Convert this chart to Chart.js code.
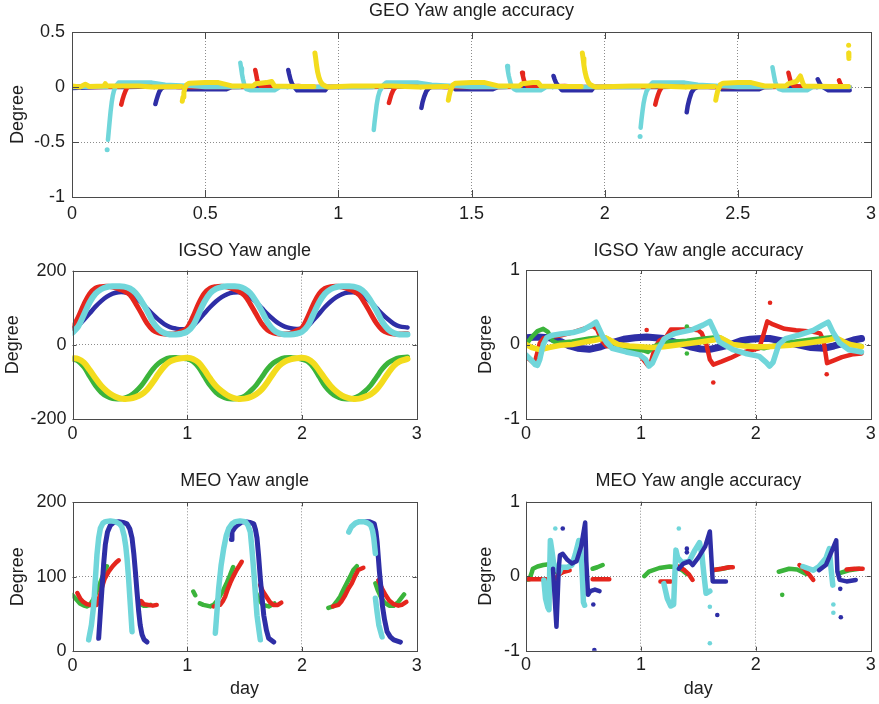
<!DOCTYPE html>
<html>
<head>
<meta charset="utf-8">
<title>Yaw angle and yaw angle accuracy</title>
<script src="https://cdn.jsdelivr.net/npm/chart.js@4.4.1/dist/chart.umd.min.js"></script>
<style>
  html, body { margin: 0; padding: 0; background: #ffffff; }
  #figure { position: relative; width: 879px; height: 704px; overflow: hidden; background: #ffffff; }
  #figure canvas { position: absolute; }
</style>
</head>
<body>
<div id="figure">
  <canvas id="geoAcc"></canvas>
  <canvas id="igsoYaw"></canvas>
  <canvas id="igsoAcc"></canvas>
  <canvas id="meoYaw"></canvas>
  <canvas id="meoAcc"></canvas>
</div>
<script>
// ---------- colours ----------
const RED = '#e5261d';
const BLUE = '#2e2ea6';
const CYAN = '#70d6da';
const GREEN = '#3bb43b';
const YELLOW = '#f3dc1d';

// ---------- tick labels ----------
const geoXTicks = [0, 0.5, 1, 1.5, 2, 2.5, 3];
const geoYTicks = [-1, -0.5, 0, 0.5];
const dayTicks = [0, 1, 2, 3];
const yawTicks = [-200, 0, 200];
const meoYawTicks = [0, 100, 200];
const accTicks = [-1, 0, 1];

// ---------- GEO yaw angle accuracy: [day, degree], null = gap ----------
const geoBlue = [
  [0,-0.01],[0.1,0],[0.2,0],[0.3,0.005],[0.31,0],null,
  [0.313,-0.155],[0.317,-0.12],[0.322,-0.08],[0.328,-0.04],[0.335,-0.015],[0.345,0],[0.42,0],[0.43,-0.02],[0.58,-0.02],[0.6,0],[0.7,0],[0.8,0.005],[0.81,0],null,
  [0.812,0.155],[0.815,0.12],[0.82,0.07],[0.826,0.03],[0.835,0],[0.845,-0.03],[0.95,-0.03],[0.96,0],[1.1,0],[1.3,0.005],[1.31,0],null,
  [1.312,-0.19],[1.316,-0.14],[1.322,-0.09],[1.33,-0.04],[1.34,-0.01],[1.35,0],[1.43,0],[1.44,-0.02],[1.58,-0.02],[1.6,0],[1.8,0.005],[1.805,0],null,
  [1.808,0.1],[1.812,0.07],[1.818,0.035],[1.826,0.01],[1.84,-0.03],[1.95,-0.03],[1.96,0],[2.2,0],[2.3,0.005],[2.305,0],null,
  [2.308,-0.23],[2.312,-0.17],[2.318,-0.11],[2.326,-0.05],[2.336,-0.015],[2.35,0],[2.43,0],[2.44,-0.02],[2.58,-0.02],[2.6,0],[2.79,0.005],[2.797,0],null,
  [2.8,0.07],[2.804,0.05],[2.81,0.02],[2.82,0],[2.84,-0.03],[2.92,-0.03]
];
const geoRed = [
  [0,0.005],[0.1,0],[0.18,0.005],null,
  [0.185,-0.16],[0.189,-0.12],[0.194,-0.08],[0.2,-0.04],[0.206,-0.01],[0.215,0.01],[0.35,0.01],[0.4,0],[0.6,0],[0.685,0.005],null,
  [0.688,0.155],[0.691,0.12],[0.695,0.07],[0.7,0.03],[0.708,0.01],[0.75,0],[0.85,0.01],[0.9,0],[1.18,0.005],null,
  [1.19,-0.145],[1.194,-0.11],[1.199,-0.07],[1.205,-0.035],[1.212,-0.01],[1.22,0.01],[1.35,0.01],[1.4,0],[1.6,0],[1.685,0.005],null,
  [1.69,0.13],[1.693,0.1],[1.697,0.06],[1.702,0.03],[1.71,0.01],[1.75,0],[1.85,0.01],[1.9,0],[2.185,0.005],null,
  [2.19,-0.16],[2.194,-0.12],[2.199,-0.08],[2.205,-0.04],[2.212,-0.01],[2.22,0.01],[2.35,0.01],[2.4,0],[2.6,0],[2.685,0.005],null,
  [2.69,0.13],[2.693,0.1],[2.697,0.06],[2.702,0.03],[2.71,0.01],[2.75,0],[2.875,0.005],null,
  [2.88,0.06],[2.885,0.03],[2.89,0.01],[2.92,0]
];
const geoCyan = [
  [0,0],[0.1,0.005],[0.13,0],null,
  [0.135,-0.48],[0.138,-0.4],[0.141,-0.32],[0.145,-0.22],[0.149,-0.14],[0.153,-0.08],[0.158,-0.03],[0.165,0.01],[0.175,0.04],[0.3,0.04],[0.35,0.02],[0.45,0.01],[0.5,0],[0.628,0],null,
  [0.632,0.22],[0.635,0.17],[0.638,0.12],[0.642,0.07],[0.647,0.02],[0.655,-0.02],[0.67,-0.03],[0.76,-0.03],[0.78,0],[1.13,0],null,
  [1.133,-0.39],[1.136,-0.32],[1.14,-0.24],[1.144,-0.16],[1.149,-0.09],[1.155,-0.04],[1.162,-0.01],[1.17,0.02],[1.18,0.04],[1.3,0.04],[1.35,0.02],[1.5,0],[1.63,0],null,
  [1.634,0.19],[1.637,0.14],[1.64,0.1],[1.645,0.05],[1.65,0.01],[1.66,-0.02],[1.67,-0.03],[1.76,-0.03],[1.78,0],[2.13,0],null,
  [2.135,-0.37],[2.138,-0.3],[2.142,-0.22],[2.146,-0.15],[2.151,-0.09],[2.157,-0.04],[2.164,-0.01],[2.172,0.02],[2.18,0.04],[2.3,0.04],[2.35,0.02],[2.5,0],[2.626,0],null,
  [2.63,0.18],[2.633,0.14],[2.636,0.1],[2.64,0.05],[2.646,0.01],[2.655,-0.02],[2.67,-0.03],[2.76,-0.03],[2.78,0],[2.92,0]
];
const geoCyanDots = [[0.132,-0.57],[2.133,-0.45]];
const geoYellow = [
  [0,0.01],[0.03,0],[0.05,0.025],[0.065,0.005],[0.12,0.01],[0.125,0.03],[0.13,0.01],[0.25,0.01],[0.3,0],[0.41,0.005],null,
  [0.414,-0.13],[0.417,-0.09],[0.42,-0.05],[0.424,-0.01],[0.43,0.02],[0.44,0.035],[0.5,0.04],[0.55,0.04],[0.6,0.01],[0.68,0.01],[0.69,0.03],[0.73,0.04],[0.75,0.05],[0.76,0.01],[0.85,0.005],[0.908,0.005],null,
  [0.912,0.31],[0.915,0.26],[0.918,0.2],[0.922,0.14],[0.927,0.09],[0.933,0.05],[0.94,0.025],[0.95,0.01],[0.96,0],[1.05,0.01],[1.2,0.01],[1.3,0],[1.41,0.005],null,
  [1.413,-0.12],[1.416,-0.08],[1.42,-0.04],[1.425,-0.01],[1.43,0.02],[1.44,0.035],[1.5,0.04],[1.55,0.04],[1.6,0.01],[1.68,0.01],[1.69,0.03],[1.73,0.04],[1.75,0.04],[1.76,0.01],[1.85,0.005],[1.912,0.005],null,
  [1.916,0.31],[1.919,0.26],[1.922,0.2],[1.926,0.14],[1.931,0.09],[1.937,0.05],[1.944,0.025],[1.955,0.01],[1.965,0],[2.1,0.01],[2.2,0.01],[2.3,0],[2.413,0.005],null,
  [2.417,-0.12],[2.42,-0.08],[2.424,-0.04],[2.429,-0.01],[2.434,0.02],[2.445,0.035],[2.5,0.04],[2.55,0.04],[2.6,0.01],[2.68,0.01],[2.69,0.03],[2.72,0.05],[2.735,0.1],[2.745,0.03],[2.75,0.01],[2.85,0.005],[2.915,0.005],null,
  [2.916,0.31],[2.917,0.26]
];
const geoYellowDots = [[2.916,0.38]];

// ---------- IGSO yaw angle (degree), sampled on igsoDays ----------
const igsoDays = [
  0,0.05,0.1,0.15,0.2,0.25,0.3,0.35,0.4,0.45,0.5,0.55,0.6,0.65,0.7,0.75,0.8,0.85,0.9,0.95,
  1,1.05,1.1,1.15,1.2,1.25,1.3,1.35,1.4,1.45,1.5,1.55,1.6,1.65,1.7,1.75,1.8,1.85,1.9,1.95,
  2,2.05,2.1,2.15,2.2,2.25,2.3,2.35,2.4,2.45,2.5,2.55,2.6,2.65,2.7,2.75,2.8,2.85,2.92
];
const igsoRed = [
  45,75,110,138,153,157,158,156,151,145,135,112,85,58,40,32,29,29,31,37,
  46,76,112,139,153,157,158,156,151,144,133,110,83,57,40,32,29,29,31,38,
  46,75,110,138,152,157,158,156,151,145,134,111,84,58,40,32,29,29,30
];
const igsoCyan = [
  33,50,82,115,138,150,156,158,158,157,152,140,118,92,62,42,32,28,28,30,
  36,52,84,116,139,151,156,158,158,157,151,139,117,91,61,41,31,28,28,30,
  35,51,83,115,138,150,156,158,158,157,152,140,118,92,62,42,32,28,28
];
const igsoBlue = [
  45,52,68,85,103,118,130,138,142,142,138,128,114,98,82,68,56,48,44,42,
  44,52,67,85,102,117,129,137,141,142,138,129,115,99,83,69,57,49,45,43,
  44,51,67,84,102,117,129,137,141,142,138,129,115,99,83,69,57,50,47
];
const igsoGreen = [
  -38,-44,-60,-85,-110,-128,-139,-145,-146,-144,-138,-126,-110,-88,-66,-50,-40,-35,-34,-36,
  -38,-45,-61,-86,-110,-128,-139,-145,-146,-144,-138,-125,-109,-87,-65,-49,-40,-35,-34,-36,
  -39,-45,-61,-86,-111,-128,-139,-145,-146,-144,-137,-125,-109,-87,-65,-49,-40,-35,-33
];
const igsoYellow = [
  -36,-38,-48,-68,-90,-110,-125,-136,-143,-146,-145,-141,-134,-121,-101,-78,-58,-45,-39,-36,
  -35,-38,-48,-68,-91,-111,-125,-136,-143,-146,-145,-141,-133,-120,-100,-77,-57,-45,-39,-36,
  -35,-38,-49,-69,-91,-111,-126,-137,-143,-146,-145,-140,-133,-120,-100,-77,-57,-45,-38
];

// ---------- IGSO yaw angle accuracy: [day, degree] ----------
const igsoAccBlue = [
  [0,0.09],[0.1,0.1],[0.2,0.09],[0.3,0.04],[0.38,-0.02],[0.45,-0.05],[0.55,-0.065],[0.65,-0.03],[0.73,0.015],[0.85,0.07],[0.95,0.09],
  [1.05,0.1],[1.2,0.08],[1.3,0.03],[1.43,-0.03],[1.52,-0.06],[1.6,-0.065],[1.7,-0.03],[1.78,0],[1.87,0.05],[1.95,0.07],
  [2.05,0.08],[2.12,0.08],[2.25,0.04],[2.36,0],[2.48,-0.04],[2.59,-0.05],[2.68,-0.02],[2.76,0.015],[2.85,0.06],[2.92,0.08]
];
const igsoAccRed = [
  [0,-0.16],[0.03,-0.2],[0.06,-0.24],[0.08,-0.22],[0.1,-0.1],[0.12,0.02],[0.15,0.08],[0.2,0.1],[0.3,0.12],[0.4,0.16],[0.5,0.21],[0.58,0.25],[0.62,0.2],[0.66,0.05],[0.7,-0.02],[0.8,-0.04],[0.9,-0.05],[0.97,-0.1],
  [1.02,-0.2],[1.06,-0.28],[1.09,-0.22],[1.12,-0.05],[1.16,0.05],[1.22,0.1],[1.26,0.2],[1.35,0.2],[1.45,0.2],[1.5,0.19],[1.53,0.15],[1.57,0],[1.6,-0.2],[1.63,-0.27],[1.7,-0.23],[1.78,-0.18],[1.86,-0.12],[1.95,-0.08],
  [2.03,-0.05],[2.07,0.15],[2.1,0.31],[2.15,0.27],[2.25,0.21],[2.35,0.19],[2.5,0.17],[2.56,0.15],[2.59,0.05],[2.62,-0.25],[2.67,-0.22],[2.75,-0.17],[2.85,-0.13],[2.92,-0.12]
];
const igsoAccRedDots = [[1.05,0.195],[1.63,-0.51],[2.124,0.56],[2.617,-0.4]];
const igsoAccCyan = [
  [0,-0.14],[0.04,-0.2],[0.08,-0.27],[0.1,-0.28],[0.12,-0.2],[0.15,0],[0.18,0.09],[0.22,0.12],[0.3,0.14],[0.41,0.16],[0.5,0.2],[0.58,0.27],[0.61,0.3],[0.64,0.2],[0.67,0.1],[0.7,0.03],[0.75,-0.05],[0.87,-0.1],[0.99,-0.14],
  [1.04,-0.2],[1.07,-0.29],[1.1,-0.25],[1.16,-0.04],[1.2,0.07],[1.23,0.1],[1.3,0.15],[1.45,0.2],[1.54,0.26],[1.6,0.31],[1.64,0.18],[1.68,0.04],[1.8,-0.07],[1.91,-0.12],
  [2.03,-0.16],[2.09,-0.24],[2.12,-0.29],[2.15,-0.24],[2.2,0],[2.26,0.08],[2.38,0.13],[2.5,0.19],[2.58,0.26],[2.63,0.3],[2.67,0.17],[2.73,0.02],[2.81,-0.07],[2.92,-0.1]
];
const igsoAccGreen = [
  [0,0],[0.05,0.1],[0.1,0.18],[0.15,0.21],[0.19,0.17],[0.23,0.05],[0.27,0.02],[0.4,0.04],[0.55,0.08],[0.68,0.1],[0.72,0.07],[0.78,0],[0.9,-0.05],
  [1.02,-0.08],[1.06,-0.1],[1.12,-0.02],[1.2,0.03],[1.4,0.05],[1.55,0.08],[1.68,0.1],[1.73,0.06],[1.8,0],[1.95,-0.02],
  [2.07,-0.05],[2.15,-0.02],[2.3,0.03],[2.5,0.07],[2.68,0.1],[2.74,0.05],[2.8,0],[2.92,-0.02]
];
const igsoAccGreenDots = [[1.4,0.24],[1.4,-0.12]];
const igsoAccYellow = [
  [0,0],[0.05,-0.04],[0.12,-0.07],[0.2,-0.04],[0.3,-0.01],[0.4,0],[0.5,0.03],[0.61,0.06],[0.69,0.09],[0.74,0.05],[0.8,0],[0.9,-0.02],
  [1,-0.03],[1.1,-0.04],[1.2,-0.03],[1.3,-0.01],[1.4,0.01],[1.5,0.03],[1.63,0.06],[1.69,0.09],[1.74,0.05],[1.8,0],[1.9,-0.02],
  [2,-0.03],[2.1,-0.03],[2.2,-0.02],[2.3,-0.01],[2.4,0.01],[2.5,0.03],[2.63,0.06],[2.7,0.09],[2.76,0.04],[2.82,0],[2.92,-0.03]
];

// ---------- MEO yaw angle: [day, degree], null = gap ----------
const meoCyan = [
  [0.141,15],[0.165,35],[0.185,62],[0.2,98],[0.213,129],[0.228,152],[0.243,165],[0.265,172],[0.286,174],[0.33,175],[0.373,174],[0.41,171],[0.43,167],[0.45,155],[0.465,140],[0.475,125],[0.49,95],[0.504,62],[0.519,26],null,
  [1.245,24],[1.26,55],[1.274,84],[1.295,115],[1.318,138],[1.34,155],[1.362,165],[1.39,171],[1.42,174],[1.46,175],[1.506,174],[1.53,169],[1.55,160],[1.565,135],[1.58,107],[1.595,75],[1.608,48],[1.625,28],[1.637,15],null,
  [2.408,160],[2.43,167],[2.466,172],[2.5,174],[2.54,174],[2.575,172],[2.6,169],[2.615,162],[2.626,152],[2.64,131],null,
  [2.64,71],[2.655,52],[2.67,35],[2.698,19]
];
const meoBlue = [
  [0.228,17],[0.24,45],[0.257,84],[0.272,118],[0.286,143],[0.305,160],[0.33,169],[0.36,173],[0.403,174],[0.44,173],[0.475,171],[0.5,164],[0.519,152],[0.535,130],[0.548,107],[0.562,80],[0.577,53],[0.59,35],[0.606,22],[0.625,15],[0.65,12],null,
  [1.385,150],[1.39,160],[1.41,165],[1.434,169],[1.47,173],[1.507,174],[1.545,173],[1.58,171],[1.595,163],[1.608,152],[1.622,128],[1.637,98],[1.652,72],[1.667,48],[1.69,28],[1.71,17],[1.754,12],null,
  [2.553,174],[2.59,174],[2.63,171],[2.645,160],[2.655,147],[2.665,127],[2.675,107],[2.69,82],[2.7,62],[2.72,42],[2.742,26],[2.77,19],[2.8,15],[2.858,12]
];
const meoRed = [
  [0.042,78],[0.07,70],[0.094,66],[0.125,63],[0.153,62],[0.21,62],[0.24,75],[0.257,86],[0.28,97],[0.316,107],[0.35,114],[0.38,119],[0.403,122],null,
  [0.59,64],[0.6,67],[0.62,63],[0.66,62],[0.7,61],[0.734,62],null,
  [1.23,60],[1.286,62],[1.31,67],[1.33,73],[1.35,82],[1.373,91],[1.4,100],[1.43,109],[1.455,115],[1.475,120],null,
  [1.635,89],[1.66,80],[1.69,73],[1.72,66],[1.75,62],[1.79,62],[1.82,65],null,
  [2.27,60],[2.318,62],[2.345,67],[2.376,75],[2.405,84],[2.434,91],[2.46,100],[2.49,109],[2.535,112],null,
  [2.665,95],[2.698,84],[2.73,75],[2.76,68],[2.8,63],[2.84,61],[2.87,62],[2.91,66]
];
const meoGreen = [
  [0,75],[0.03,70],[0.065,64],[0.1,61],[0.124,60],[0.15,62],[0.18,69],[0.21,80],[0.24,91],[0.262,100],[0.283,109],[0.3,114],null,
  [0.59,63],[0.62,61],[0.65,61],[0.68,62],null,
  [1.053,80],[1.07,75],null,
  [1.11,64],[1.14,62],[1.2,60],[1.23,62],[1.257,67],[1.285,74],[1.315,82],[1.345,92],[1.373,102],[1.4,113],null,
  [1.6,78],[1.63,68],[1.66,62],[1.71,60],[1.76,64],null,
  [2.23,58],[2.27,60],[2.3,66],[2.332,73],[2.36,82],[2.39,91],[2.42,100],[2.448,109],[2.478,114],null,
  [2.64,91],[2.66,82],[2.69,72],[2.72,65],[2.76,61],[2.8,61],[2.84,66],[2.87,72],[2.89,76]
];

// ---------- MEO yaw angle accuracy: [day, degree], null = gap ----------
const meoAccGreen = [
  [0,-0.05],[0.03,-0.04],[0.05,0.05],[0.06,0.1],[0.1,0.13],[0.15,0.15],[0.2,0.16],[0.23,0.12],[0.26,0.06],[0.3,0.04],null,
  [0.58,0.1],[0.62,0.12],[0.667,0.15],null,
  [1.03,0],[1.07,0.06],[1.16,0.11],[1.25,0.13],[1.31,0.12],[1.36,0.08],[1.4,0.03],null,
  [1.62,0.08],[1.71,0.1],[1.77,0.12],null,
  [2.2,0.06],[2.29,0.1],[2.36,0.09],[2.44,0.03],null,
  [2.73,0.04],[2.81,0.08],[2.9,0.1]
];
const meoAccGreenDots = [[2.23,-0.25]];
const meoAccRed = [
  [0.02,-0.04],[0.1,-0.04],[0.2,-0.04],[0.26,-0.03],[0.29,0.03],[0.33,0.06],[0.38,0.08],null,
  [0.58,-0.04],[0.65,-0.04],[0.725,-0.04],null,
  [1.17,-0.07],[1.26,-0.07],null,
  [1.33,0.13],[1.38,0.08],[1.42,0.02],[1.45,-0.05],null,
  [1.62,0.08],[1.7,0.1],[1.77,0.12],[1.8,0.12],null,
  [2.38,0.15],[2.42,0.1],[2.46,0.03],[2.5,-0.05],null,
  [2.79,0.09],[2.86,0.1],[2.93,0.1]
];
const meoAccCyan = [
  [0.155,-0.05],[0.17,-0.3],[0.19,-0.42],[0.2,-0.45],[0.205,0],[0.212,0.48],[0.225,0.35],[0.24,0.18],[0.26,0.1],[0.29,0.05],[0.31,0.12],[0.36,0.12],[0.4,0.15],[0.43,0.3],[0.46,0.48],[0.475,0.4],[0.49,0],[0.5,-0.35],[0.51,-0.39],null,
  [1.2,-0.1],[1.23,-0.3],[1.26,-0.4],[1.285,-0.38],[1.295,0],[1.305,0.35],[1.32,0.25],[1.36,0.18],[1.42,0.2],[1.47,0.35],[1.51,0.45],[1.53,0.3],[1.55,0],[1.567,-0.23],[1.6,-0.2],null,
  [2.41,0.13],[2.5,0.08],[2.55,0.13],[2.61,0.24],[2.64,0.37],[2.655,0.1],[2.67,-0.12]
];
const meoAccCyanDots = [[0.255,0.64],[1.33,0.64],[1.6,-0.41],[1.6,-0.9],[2.675,-0.38],[2.675,-0.49]];
const meoAccBlue = [
  [0.235,0.1],[0.25,-0.3],[0.265,-0.68],[0.275,-0.3],[0.285,0.1],[0.295,0.28],[0.32,0.3],[0.36,0.22],[0.4,0.17],[0.44,0.2],[0.48,0.4],[0.515,0.72],[0.525,0.2],[0.54,-0.25],[0.56,-0.2],[0.6,-0.18],[0.64,-0.2],null,
  [1.33,0.1],[1.37,0.17],[1.42,0.2],[1.45,0.15],[1.5,0.25],[1.56,0.4],[1.6,0.6],[1.615,0.2],[1.625,-0.07],[1.66,-0.07],[1.74,-0.07],null,
  [2.55,0.08],[2.61,0.15],[2.67,0.37],[2.7,0.48],[2.71,0.06],[2.73,-0.05],[2.79,-0.07],[2.87,-0.05]
];
const meoAccBlueDots = [[0.32,0.64],[0.586,-0.38],[0.595,-0.99],[1.4,0.37],[1.4,0.32],[1.665,-0.52],[2.735,-0.17],[2.74,-0.55]];

// ---------- helpers ----------
const FONT = '"Liberation Sans", Arial, Helvetica, sans-serif';
const FS = 18;
const LH = FS * 1.2;

// [x, y] pairs -> chart points; a null entry breaks the line
function toPoints(pairs) {
  let lastX = 0;
  return pairs.map(p => {
    if (p === null) return { x: lastX, y: null };
    lastX = p[0];
    return { x: p[0], y: p[1] };
  });
}
function sampled(xs, ys) {
  return ys.map((v, i) => ({ x: xs[i], y: v }));
}
function curve(points, color, width, smooth) {
  return {
    data: points, showLine: true, borderColor: color, backgroundColor: color,
    borderWidth: width, pointRadius: 0, pointHoverRadius: 0, spanGaps: false,
    borderCapStyle: 'round', borderJoinStyle: 'round', fill: false,
    tension: smooth ? 0.35 : 0
  };
}
function dots(pairs, color, r) {
  return {
    data: toPoints(pairs), showLine: false, pointRadius: r, pointBorderWidth: 0,
    pointBackgroundColor: color, pointHoverRadius: r
  };
}

// box around the axes with inward tick marks on all four sides
const axesBox = {
  id: 'axesBox',
  afterDatasetsDraw(chart, args, opts) {
    const { ctx, chartArea: a, scales } = chart;
    const len = opts.tickLength || 4;
    ctx.save();
    ctx.strokeStyle = '#4a4a4a';
    ctx.lineWidth = 1;
    ctx.beginPath();
    scales.x.ticks.forEach(t => {
      const px = Math.round(scales.x.getPixelForValue(t.value)) + 0.5;
      ctx.moveTo(px, a.bottom); ctx.lineTo(px, a.bottom - len);
      ctx.moveTo(px, a.top); ctx.lineTo(px, a.top + len);
    });
    scales.y.ticks.forEach(t => {
      const py = Math.round(scales.y.getPixelForValue(t.value)) + 0.5;
      ctx.moveTo(a.left, py); ctx.lineTo(a.left + len, py);
      ctx.moveTo(a.right, py); ctx.lineTo(a.right - len, py);
    });
    ctx.stroke();
    ctx.strokeRect(Math.round(a.left) + 0.5, Math.round(a.top) + 0.5,
                   Math.round(a.right - a.left), Math.round(a.bottom - a.top));
    ctx.restore();
  }
};

function gridColor(min, max) {
  return c => (c.tick && (c.tick.value === min || c.tick.value === max)) ? 'rgba(0,0,0,0)' : '#8c8c8c';
}

function panel(id, cfg) {
  const { box, area } = cfg;
  const cv = document.getElementById(id);
  cv.width = box.w; cv.height = box.h;
  cv.style.left = box.x + 'px'; cv.style.top = box.y + 'px';
  cv.style.width = box.w + 'px'; cv.style.height = box.h + 'px';

  const yAxisWidth = area.l - box.x;
  const xAxisHeight = box.y + box.h - area.b;
  const padRight = box.x + box.w - area.r;
  const titleTop = cfg.titleY - box.y - LH / 2;
  const titleBottom = (area.t - box.y) - titleTop - LH;
  const yTitlePad = cfg.yTitleX - box.x - LH / 2;
  const font = { family: FONT, size: FS, lineHeight: 1.2, weight: 'normal' };

  const xMin = cfg.xTicks[0], xMax = cfg.xTicks[cfg.xTicks.length - 1];
  const yMin = cfg.yTicks[0], yMax = cfg.yTicks[cfg.yTicks.length - 1];

  return new Chart(cv, {
    type: 'scatter',
    data: { datasets: cfg.datasets },
    options: {
      responsive: false, animation: false, devicePixelRatio: 1, events: [],
      layout: { padding: { left: 0, right: padRight, top: 0, bottom: 0 } },
      plugins: {
        legend: { display: false },
        tooltip: { enabled: false },
        title: {
          display: true, text: cfg.title, fullSize: false, color: '#1e1e1e', font,
          padding: { top: titleTop, bottom: titleBottom }
        },
        axesBox: { tickLength: cfg.tickLength }
      },
      scales: {
        x: {
          type: 'linear', min: xMin, max: xMax,
          afterBuildTicks: s => { s.ticks = cfg.xTicks.map(v => ({ value: v })); },
          afterFit: s => { s.height = xAxisHeight; },
          ticks: { autoSkip: false, maxRotation: 0, padding: 0, color: '#1e1e1e', font, callback: v => String(v) },
          grid: { color: gridColor(xMin, xMax), lineWidth: 1, drawTicks: true, tickLength: cfg.xLabelGap, tickColor: 'rgba(0,0,0,0)' },
          border: { display: false, dash: [1, 2] },
          title: cfg.xTitle ? { display: true, text: cfg.xTitle, color: '#1e1e1e', font, padding: { top: 0, bottom: cfg.xTitlePad } } : { display: false }
        },
        y: {
          type: 'linear', min: yMin, max: yMax,
          afterBuildTicks: s => { s.ticks = cfg.yTicks.map(v => ({ value: v })); },
          afterFit: s => { s.width = yAxisWidth; },
          ticks: { autoSkip: false, padding: 0, color: '#1e1e1e', font, callback: v => String(v) },
          grid: { color: gridColor(yMin, yMax), lineWidth: 1, drawTicks: true, tickLength: cfg.yLabelGap, tickColor: 'rgba(0,0,0,0)' },
          border: { display: false, dash: [1, 2] },
          title: { display: true, text: 'Degree', color: '#1e1e1e', font, padding: { top: yTitlePad, bottom: 0 } }
        }
      }
    },
    plugins: [axesBox]
  });
}

// ---------- panels (first dataset is drawn on top) ----------
panel('geoAcc', {
  box: { x: 0, y: 0, w: 879, h: 227 }, area: { l: 72, t: 32, r: 871, b: 197 },
  title: 'GEO Yaw angle accuracy', titleY: 11, yTitleX: 18,
  xTicks: geoXTicks, yTicks: geoYTicks, xLabelGap: 6, yLabelGap: 7, tickLength: 7,
  datasets: [
    dots(geoYellowDots, YELLOW, 2.5),
    curve(toPoints(geoYellow), YELLOW, 5),
    dots(geoCyanDots, CYAN, 2.5),
    curve(toPoints(geoCyan), CYAN, 4.5),
    curve(toPoints(geoRed), RED, 4.5),
    curve(toPoints(geoBlue), BLUE, 4.5)
  ]
});

panel('igsoYaw', {
  box: { x: 0, y: 235, w: 440, h: 220 }, area: { l: 72.5, t: 270.7, r: 416.7, b: 419 },
  title: 'IGSO Yaw angle', titleY: 251, yTitleX: 13,
  xTicks: dayTicks, yTicks: yawTicks, xLabelGap: 4, yLabelGap: 6, tickLength: 4,
  datasets: [
    curve(sampled(igsoDays, igsoCyan), CYAN, 6, true),
    curve(sampled(igsoDays, igsoRed), RED, 5, true),
    curve(sampled(igsoDays, igsoBlue), BLUE, 4.5, true),
    curve(sampled(igsoDays, igsoYellow), YELLOW, 6, true),
    curve(sampled(igsoDays, igsoGreen), GREEN, 5, true)
  ]
});

panel('igsoAcc', {
  box: { x: 440, y: 235, w: 439, h: 220 }, area: { l: 526, t: 270, r: 870.7, b: 419 },
  title: 'IGSO Yaw angle accuracy', titleY: 251, yTitleX: 486,
  xTicks: dayTicks, yTicks: accTicks, xLabelGap: 4, yLabelGap: 6, tickLength: 4,
  datasets: [
    curve(toPoints(igsoAccCyan), CYAN, 5.5),
    curve(toPoints(igsoAccYellow), YELLOW, 5.5),
    dots(igsoAccGreenDots, GREEN, 2.3),
    curve(toPoints(igsoAccGreen), GREEN, 4.5),
    dots(igsoAccRedDots, RED, 2.3),
    curve(toPoints(igsoAccRed), RED, 4.5),
    curve(toPoints(igsoAccBlue), BLUE, 7)
  ]
});

panel('meoYaw', {
  box: { x: 0, y: 462, w: 440, h: 242 }, area: { l: 72.5, t: 502.3, r: 416.7, b: 651 },
  title: 'MEO Yaw angle', titleY: 481, yTitleX: 18,
  xTicks: dayTicks, yTicks: meoYawTicks, xLabelGap: 4, yLabelGap: 6, tickLength: 4,
  xTitle: 'day', xTitlePad: 704 - 689 - LH / 2,
  datasets: [
    curve(toPoints(meoCyan), CYAN, 5.5),
    curve(toPoints(meoBlue), BLUE, 5),
    curve(toPoints(meoRed), RED, 4.5),
    curve(toPoints(meoGreen), GREEN, 4.5)
  ]
});

panel('meoAcc', {
  box: { x: 440, y: 462, w: 439, h: 242 }, area: { l: 526, t: 501.7, r: 870.7, b: 650.7 },
  title: 'MEO Yaw angle accuracy', titleY: 481, yTitleX: 486,
  xTicks: dayTicks, yTicks: accTicks, xLabelGap: 4, yLabelGap: 6, tickLength: 4,
  xTitle: 'day', xTitlePad: 704 - 689 - LH / 2,
  datasets: [
    dots(meoAccBlueDots, BLUE, 2.3),
    curve(toPoints(meoAccBlue), BLUE, 4.5),
    dots(meoAccCyanDots, CYAN, 2.3),
    curve(toPoints(meoAccCyan), CYAN, 5.5),
    curve(toPoints(meoAccRed), RED, 4.5),
    dots(meoAccGreenDots, GREEN, 2.3),
    curve(toPoints(meoAccGreen), GREEN, 4.5)
  ]
});
</script>
</body>
</html>
